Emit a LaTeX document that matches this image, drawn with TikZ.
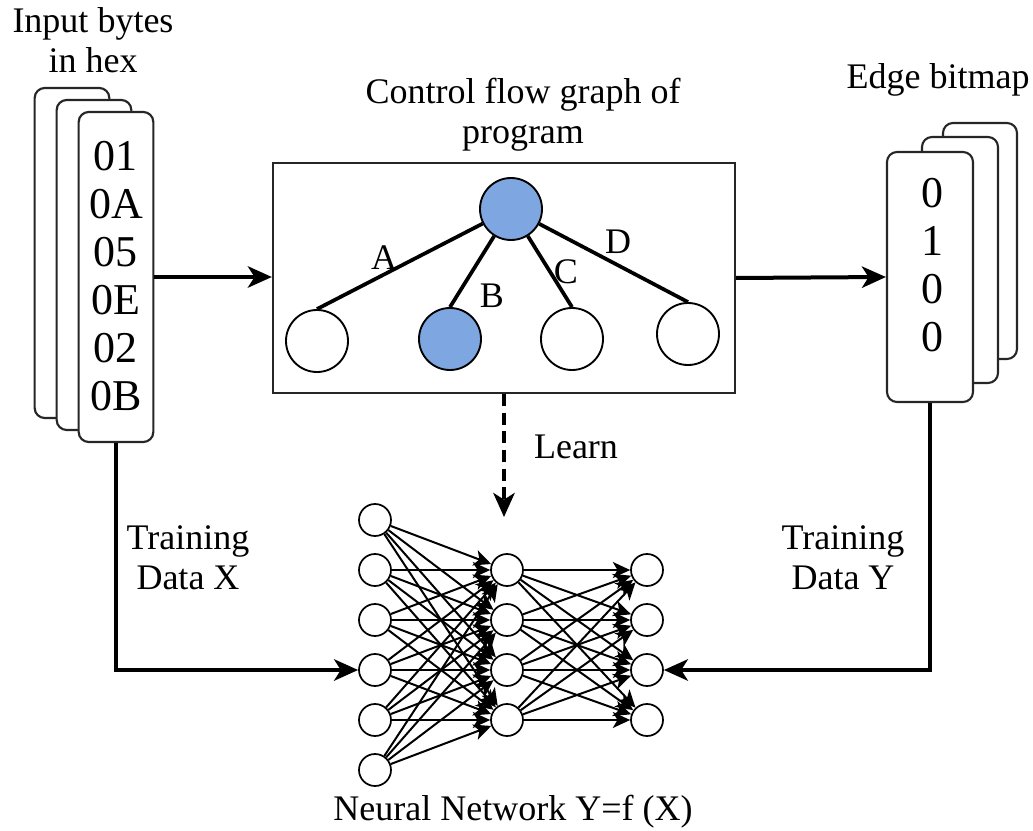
\documentclass[tikz,border=0pt]{standalone}
\usepackage{fontspec}
\setmainfont{Liberation Serif}
\usetikzlibrary{arrows.meta,shapes.geometric}
\definecolor{cfgblue}{HTML}{7EA6E0}
\tikzset{
  card/.style={draw=black!85, line width=1.6pt, rounded corners=7.5pt, fill=white, inner sep=0pt},
  cfgbox/.style={draw=black!85, line width=1.7pt, inner sep=0pt, minimum width=346.5pt, minimum height=172.5pt},
  cfgnode/.style={circle, draw=black, line width=1.4pt, minimum size=46.5pt, inner sep=0pt, fill=white},
  hit/.style={fill=cfgblue},
  neuron/.style={circle, draw=black, line width=1.3pt, minimum size=24pt, inner sep=0pt},
  flow/.style={line width=3pt, -{Stealth[length=18pt, width=16pt, inset=5pt]}},
  cfgedge/.style={line width=2.8pt},
  syn/.style={line width=1.5pt, -{Stealth[length=13pt, width=12pt, inset=3.5pt]}},
  lbl/.style={font=\fontsize{27}{30}\selectfont, align=center, inner sep=0pt},
  digits/.style={font=\fontsize{33}{36}\selectfont, align=center, inner sep=0pt},
}
\begin{document}
\begin{tikzpicture}[x=0.75pt, y=-0.75pt]
\useasboundingbox (0,0) rectangle (1033,831);

% input byte cards
\node[card, minimum width=56pt, minimum height=247.5pt] (inBack) at (72,253) {};
\node[card, minimum width=56pt, minimum height=247.5pt] (inMid) at (94,265) {};
\node[card, minimum width=56pt, minimum height=247.5pt] (inFront) at (116,277) {};
\node[digits] (inText) at (116,276) {01\\0A\\05\\0E\\02\\0B};
\node[lbl] (inTitle) at (93,40) {Input bytes\\in hex};

% edge bitmap cards
\node[card, minimum width=55.5pt, minimum height=177pt] (bitBack) at (980,241) {};
\node[card, minimum width=57pt, minimum height=184.5pt] (bitMid) at (960,260) {};
\node[card, minimum width=64.5pt, minimum height=187.5pt] (bitFront) at (930,277) {};
\node[digits] (bitText) at (932,265) {0\\1\\0\\0};
\node[lbl] (bitTitle) at (938,80) {Edge bitmap};

% control flow graph
\node[cfgbox] (cfg) at (504,278) {};
\node[lbl] (cfgTitle) at (523,115) {Control flow graph of\\program};
\node[cfgnode, hit] (root) at (511,209) {};
\node[cfgnode] (leafA) at (317,341) {};
\node[cfgnode, hit] (leafB) at (450,339) {};
\node[cfgnode] (leafC) at (572,339) {};
\node[cfgnode] (leafD) at (688,334) {};
\draw[cfgedge] (root) -- (leafA.north);
\draw[cfgedge] (root) -- (leafB.north);
\draw[cfgedge] (root) -- (leafC.north);
\draw[cfgedge] (root) -- (leafD.north);
\node[lbl] (labA) at (384,258) {A};
\node[lbl] (labB) at (492,296) {B};
\node[lbl] (labC) at (566,272) {C};
\node[lbl] (labD) at (618,242) {D};

% main data flow
\draw[flow] (inFront.east) -- (inFront.east -| cfg.west);
\draw[flow] (cfg.east) -- (bitFront.west);
\coordinate (learnEnd) at (504,517);
\draw[flow, dash pattern=on 9pt off 5pt] (cfg.south) -- (learnEnd);
\node[lbl] (learnLbl) at (576,447) {Learn};

% neural network
\foreach \i in {1,...,6} {
  \node[neuron] (a\i) at (375,470+50*\i) {};
}
\foreach \j in {1,...,4} {
  \node[neuron] (b\j) at (507,520+50*\j) {};
  \node[neuron] (c\j) at (647,520+50*\j) {};
}
\foreach \i in {1,...,6} {
  \foreach \j in {1,...,4} {
    \draw[syn] (a\i) -- (b\j);
  }
}
\foreach \i in {1,...,4} {
  \foreach \j in {1,...,4} {
    \draw[syn] (b\i) -- (c\j);
  }
}
\node[lbl] (nnLbl) at (513,812) {Neural Network Y=f (X)};

% training data
\draw[flow] (inFront.south) |- (a4.west);
\draw[flow] (bitFront.south) |- (c3.east);
\node[lbl] (trX) at (188,558) {Training\\Data X};
\node[lbl] (trY) at (843,558) {Training\\Data Y};
\end{tikzpicture}
\end{document}
